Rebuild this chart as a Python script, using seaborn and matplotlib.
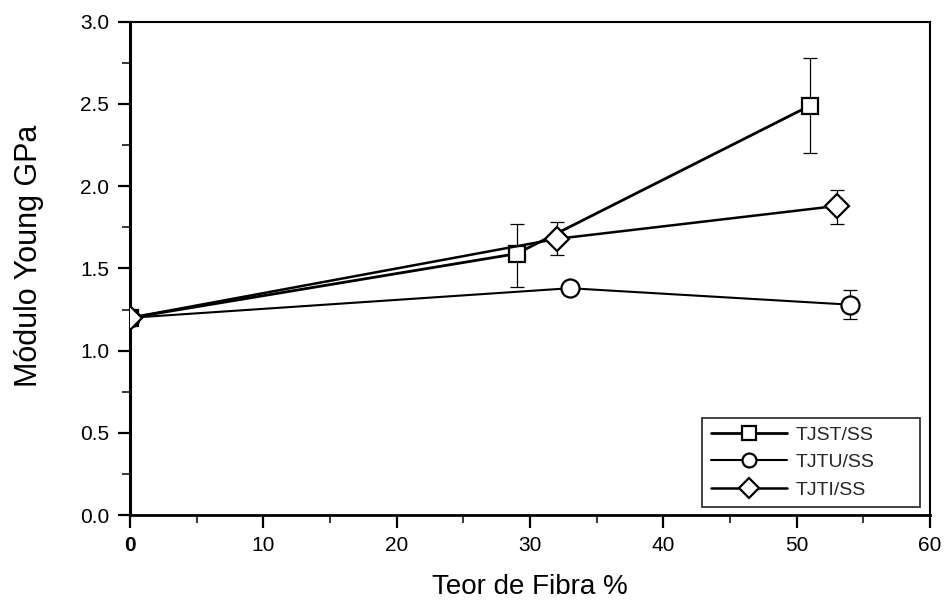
import matplotlib
matplotlib.use("Agg")
import matplotlib.pyplot as plt
import seaborn as sns
import pandas as pd
from matplotlib.ticker import MultipleLocator

sns.set_theme(style="white")
plt.rcParams['font.family'] = ['Liberation Sans', 'DejaVu Sans']

series_names = ["TJST/SS", "TJTU/SS", "TJTI/SS"]
tjst_x = [0, 29, 51]
tjst_y = [1.2, 1.59, 2.49]
tjst_err_lo = [0.0, 0.20, 0.29]
tjst_err_hi = [0.0, 0.18, 0.29]
tjtu_x = [0, 33, 54]
tjtu_y = [1.2, 1.38, 1.28]
tjtu_err_lo = [0.0, 0.0, 0.09]
tjtu_err_hi = [0.0, 0.0, 0.09]
tjti_x = [0, 32, 53]
tjti_y = [1.2, 1.68, 1.88]
tjti_err_lo = [0.0, 0.10, 0.11]
tjti_err_hi = [0.0, 0.10, 0.10]

xticks = [0, 10, 20, 30, 40, 50, 60]
yticks = [0.0, 0.5, 1.0, 1.5, 2.0, 2.5, 3.0]

fig = plt.figure(figsize=(9.48, 6.04), dpi=100)
ax = fig.add_axes([0.137, 0.147, 0.844, 0.817])

data = [
    (tjst_x, tjst_y, tjst_err_lo, tjst_err_hi, "s", 12, 2.0),
    (tjtu_x, tjtu_y, tjtu_err_lo, tjtu_err_hi, "o", 13, 1.5),
    (tjti_x, tjti_y, tjti_err_lo, tjti_err_hi, "D", 12.5, 1.8),
]
for name, (xs, ys, lo, hi, mk, ms, lw) in zip(series_names, data):
    df = pd.DataFrame({"x": xs, "y": ys})
    sns.lineplot(data=df, x="x", y="y", ax=ax, color="black", linewidth=lw,
                 marker=mk, markersize=ms, markerfacecolor="white",
                 markeredgecolor="black", markeredgewidth=1.6, label=name,
                 zorder=3)
    ax.errorbar(xs[1:], ys[1:], yerr=[lo[1:], hi[1:]], fmt="none", ecolor="black",
                elinewidth=0.9, capsize=5, capthick=0.9, linestyle=":", zorder=2)

ax.set_xlim(0, 60)
ax.set_ylim(0, 3.0)
ax.set_xticks(xticks)
ax.set_yticks(yticks)
ax.set_xticklabels([str(t) for t in xticks])
ax.set_yticklabels([f"{t:.1f}" for t in yticks])
ax.get_xticklabels()[0].set_fontweight("bold")
ax.get_xticklabels()[0].set_fontsize(16)
ax.xaxis.set_minor_locator(MultipleLocator(5))
ax.yaxis.set_minor_locator(MultipleLocator(0.25))
ax.tick_params(axis="both", which="major", direction="out", length=9, width=1.6,
               labelsize=15, colors="black", bottom=True, left=True, pad=6)
ax.tick_params(axis="both", which="minor", direction="out", length=5.5, width=1.3,
               bottom=True, left=True)
for s in ax.spines.values():
    s.set_color("black")
    s.set_linewidth(1.5)
ax.spines["left"].set_linewidth(2.2)
ax.spines["bottom"].set_linewidth(2.0)

ax.set_xlabel("Teor de Fibra %", fontsize=20, color="black", labelpad=14)
ax.set_ylabel("Módulo Young GPa", fontsize=22, color="black")
ax.yaxis.set_label_coords(-0.107, 0.525)

leg = ax.legend(loc="lower left", bbox_to_anchor=(0.715, 0.016, 0.2725, 0.187),
                mode="expand", frameon=True,
                fancybox=False, edgecolor="black", fontsize=14, handlelength=3.9,
                borderpad=0.45, labelspacing=0.5, handletextpad=0.45,
                borderaxespad=0.0)
leg.get_frame().set_linewidth(1.3)
for h in leg.legend_handles:
    h.set_markersize(10)

fig.savefig("out.png", dpi=100)
